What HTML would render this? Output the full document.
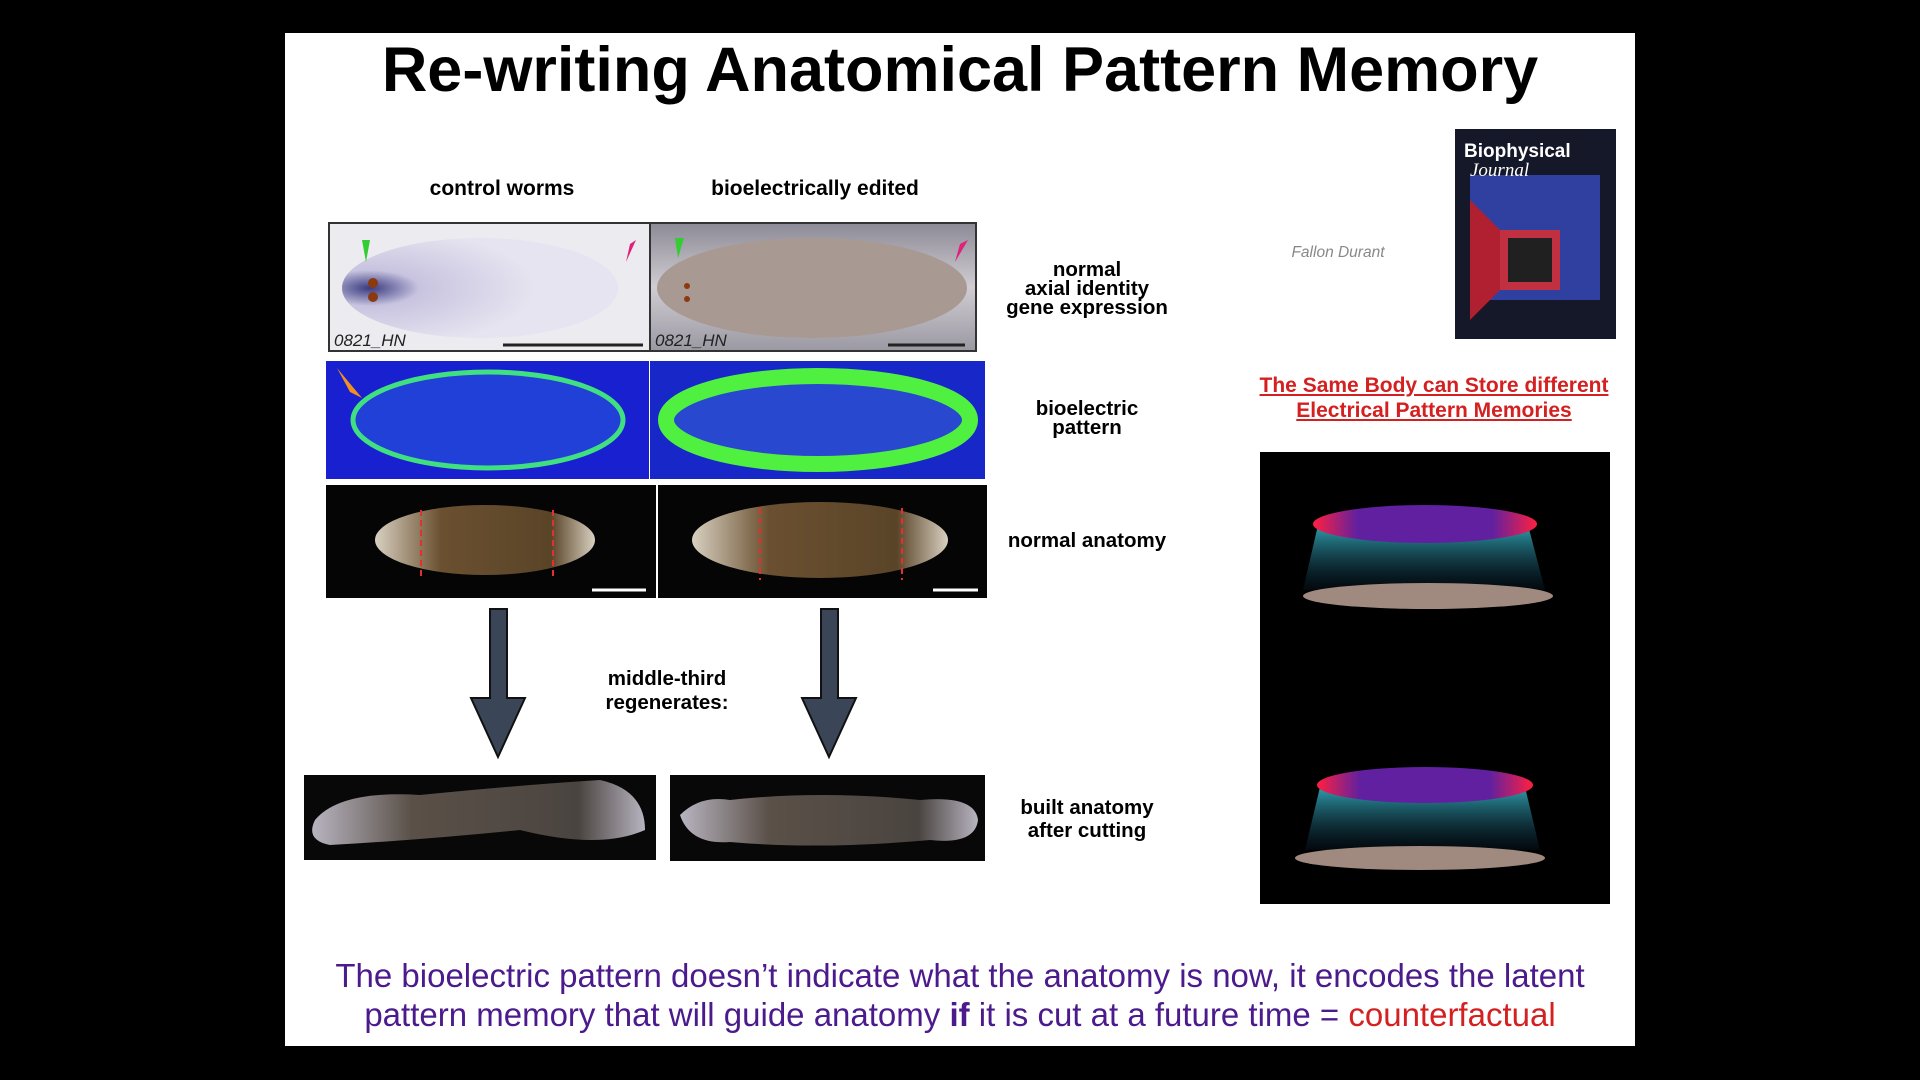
<!DOCTYPE html>
<html><head><meta charset="utf-8"><style>
body{margin:0;width:1920px;height:1080px;background:#000;position:relative;overflow:hidden;font-family:"Liberation Sans",sans-serif}
.a{position:absolute}
.slide{left:285px;top:33px;width:1350px;height:1013px;background:#fff}
.t{font-weight:bold;text-align:center;color:#000}
.lbl{font-weight:bold;font-size:20.5px;text-align:center;line-height:19px;width:240px}
</style></head><body>
<div class="a slide"></div>
<div class="a t" style="left:285px;top:30px;width:1350px;font-size:63px;line-height:80px">Re-writing Anatomical Pattern Memory</div>
<div class="a t" style="left:352px;top:177px;width:300px;font-size:21px">control worms</div>
<div class="a t" style="left:665px;top:177px;width:300px;font-size:21px">bioelectrically edited</div>

<svg class="a" style="left:0;top:0" width="1920" height="1080">
<defs>
<radialGradient id="g1" cx="0.1" cy="0.5" r="0.6"><stop offset="0" stop-color="#3a3a80"/><stop offset="0.3" stop-color="#c8c4e0"/><stop offset="1" stop-color="#e6e4f0"/></radialGradient>
<linearGradient id="bw" x1="0" x2="0" y1="0" y2="1"><stop offset="0" stop-color="#8c8a96"/><stop offset="0.5" stop-color="#d0ccd2"/><stop offset="1" stop-color="#9a98a2"/></linearGradient>
<linearGradient id="body" x1="0" x2="1"><stop offset="0" stop-color="#d8d0c0"/><stop offset="0.3" stop-color="#6a5030"/><stop offset="0.8" stop-color="#5a4428"/><stop offset="1" stop-color="#d8d0c0"/></linearGradient>
<linearGradient id="reg" x1="0" x2="1"><stop offset="0" stop-color="#b8b4c0"/><stop offset="0.3" stop-color="#5a5048"/><stop offset="0.8" stop-color="#4a4440"/><stop offset="1" stop-color="#b8b4c0"/></linearGradient>
<linearGradient id="pur" x1="0" x2="1"><stop offset="0" stop-color="#ff2040"/><stop offset="0.2" stop-color="#6020a0"/><stop offset="0.8" stop-color="#6020a0"/><stop offset="1" stop-color="#ff2040"/></linearGradient>
<linearGradient id="cy" x1="0" x2="0" y1="0" y2="1"><stop offset="0" stop-color="#30a0b0"/><stop offset="1" stop-color="#0a2030" stop-opacity="0.3"/></linearGradient>
</defs>
<rect x="329" y="223" width="321" height="128" fill="#ecebf0" stroke="#333" stroke-width="2"/>
<rect x="650" y="223" width="326" height="128" fill="url(#bw)" stroke="#333" stroke-width="2"/>
<ellipse cx="480" cy="288" rx="138" ry="50" fill="url(#g1)"/>
<ellipse cx="812" cy="288" rx="155" ry="50" fill="#a89a92"/>
<circle cx="373" cy="283" r="5" fill="#8a3a10"/><circle cx="373" cy="297" r="5" fill="#8a3a10"/>
<circle cx="687" cy="286" r="3" fill="#8a3a10"/><circle cx="687" cy="299" r="3" fill="#8a3a10"/>
<polygon points="362,240 370,240 366,262" fill="#3c3"/><polygon points="636,240 626,262 630,244" fill="#e0207a"/>
<polygon points="675,238 684,238 678,258" fill="#3c3"/><polygon points="968,240 955,262 960,244" fill="#e0207a"/>
<line x1="503" y1="345" x2="643" y2="345" stroke="#222" stroke-width="3"/>
<line x1="888" y1="345" x2="965" y2="345" stroke="#222" stroke-width="3"/>
<text x="334" y="346" font-family="Liberation Sans" font-style="italic" font-size="17" fill="#222">0821_HN</text>
<text x="655" y="346" font-family="Liberation Sans" font-style="italic" font-size="17" fill="#222">0821_HN</text>
<rect x="326" y="361" width="323" height="118" fill="#1820d0"/>
<rect x="650" y="361" width="335" height="118" fill="#1828c8"/>
<ellipse cx="488" cy="420" rx="135" ry="48" fill="#2040d8" stroke="#40e080" stroke-width="5"/>
<ellipse cx="818" cy="420" rx="152" ry="44" fill="#2848d0" stroke="#50f040" stroke-width="16"/>
<polygon points="337,368 362,398 350,392" fill="#f09020"/>
<rect x="326" y="485" width="330" height="113" fill="#050505"/>
<rect x="658" y="485" width="329" height="113" fill="#050505"/>
<ellipse cx="485" cy="540" rx="110" ry="35" fill="url(#body)"/>
<ellipse cx="820" cy="540" rx="128" ry="38" fill="url(#body)"/>
<g stroke="#e03030" stroke-width="2" stroke-dasharray="6 4"><line x1="421" y1="510" x2="421" y2="580"/><line x1="553" y1="510" x2="553" y2="580"/><line x1="760" y1="508" x2="760" y2="580"/><line x1="902" y1="508" x2="902" y2="580"/></g>
<line x1="592" y1="590" x2="646" y2="590" stroke="#fff" stroke-width="3"/><line x1="933" y1="590" x2="978" y2="590" stroke="#fff" stroke-width="3"/>
<g fill="#3a4658" stroke="#111" stroke-width="2">
<polygon points="490,609 507,609 507,698 525,698 498,757 471,698 490,698"/>
<polygon points="821,609 838,609 838,698 856,698 829,757 802,698 821,698"/>
</g>
<rect x="304" y="775" width="352" height="85" fill="#080808"/>
<rect x="670" y="775" width="315" height="86" fill="#080808"/>
<path d="M315 820 Q340 790 420 795 Q520 785 600 780 Q645 790 645 830 Q600 850 520 830 Q420 840 330 845 Q305 840 315 820Z" fill="url(#reg)"/>
<path d="M680 815 Q700 795 730 800 Q820 790 920 800 Q975 795 978 820 Q975 845 930 840 Q820 850 730 842 Q690 845 680 815Z" fill="url(#reg)"/>
<rect x="1455" y="129" width="161" height="210" fill="#141828"/>
<polygon points="1470,175 1600,175 1600,300 1470,300" fill="#3040a0"/>
<polygon points="1470,200 1530,260 1470,320" fill="#b02030"/>
<rect x="1500" y="230" width="60" height="60" fill="#c03040"/><rect x="1508" y="238" width="44" height="44" fill="#202020"/>
<text x="1464" y="157" font-family="Liberation Sans" font-weight="bold" font-size="19" fill="#fff">Biophysical</text>
<text x="1470" y="176" font-family="Liberation Serif" font-style="italic" font-size="19" fill="#fff">Journal</text>
<rect x="1260" y="452" width="350" height="452" fill="#000"/>
<polygon points="1318,525 1528,525 1545,590 1303,590" fill="url(#cy)"/>
<ellipse cx="1425" cy="524" rx="112" ry="19" fill="url(#pur)"/>
<ellipse cx="1428" cy="596" rx="125" ry="13" fill="#a08a80"/>
<polygon points="1320,787 1525,787 1540,850 1305,850" fill="url(#cy)"/>
<ellipse cx="1425" cy="785" rx="108" ry="18" fill="url(#pur)"/>
<ellipse cx="1420" cy="858" rx="125" ry="12" fill="#a08a80"/>
</svg>

<div class="a lbl" style="left:967px;top:260px">normal<br>axial identity<br>gene expression</div>
<div class="a lbl" style="left:967px;top:399px">bioelectric<br>pattern</div>
<div class="a lbl" style="left:967px;top:531px">normal anatomy</div>
<div class="a lbl" style="left:547px;top:667px;line-height:24px">middle-third<br>regenerates:</div>
<div class="a lbl" style="left:967px;top:796px;line-height:23px">built anatomy<br>after cutting</div>
<div class="a" style="left:1238px;top:244px;width:200px;text-align:center;font-style:italic;font-size:15.5px;color:#888">Fallon Durant</div>
<div class="a" style="left:1214px;top:373px;width:440px;text-align:center;font-weight:bold;font-size:21px;line-height:25px;color:#d42020;text-decoration:underline">The Same Body can Store different<br>Electrical Pattern Memories</div>
<div class="a" style="left:235px;top:956px;width:1450px;text-align:center;font-size:33px;line-height:39px;color:#4b1a8c">The bioelectric pattern doesn’t indicate what the anatomy is now, it encodes the latent<br>pattern memory that will guide anatomy <b>if</b> it is cut at a future time = <span style="color:#d42020">counterfactual</span></div>
</body></html>
